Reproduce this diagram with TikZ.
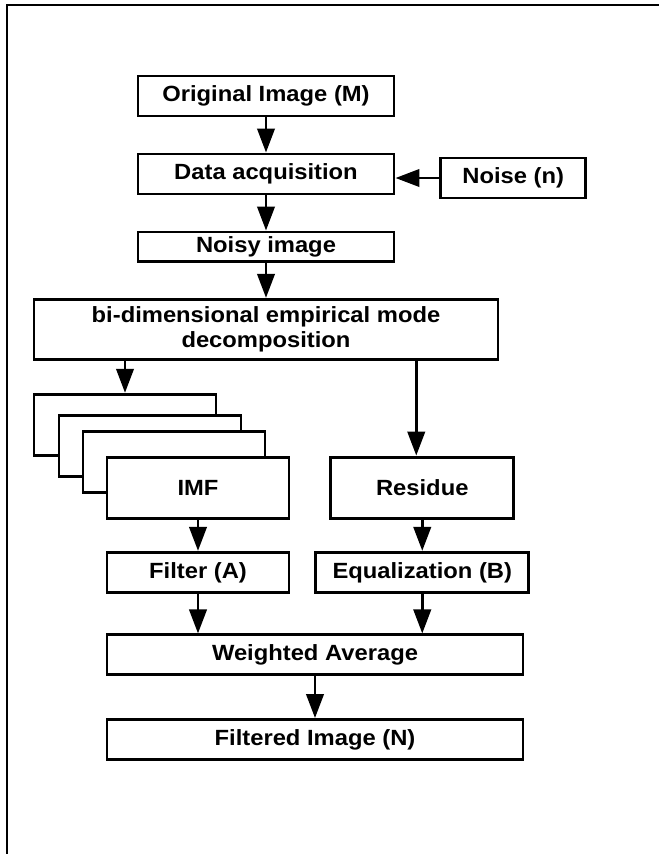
\documentclass[tikz,border=0pt]{standalone}
\usepackage{fontspec}
\setmainfont{Liberation Sans}[FakeStretch=1.08]
\usetikzlibrary{arrows.meta,positioning}

\begin{document}
\begin{tikzpicture}[
  x=0.75pt, y=-0.75pt,
  font=\fontsize{16.5}{19}\selectfont\bfseries,
  node distance=26.3pt and 29pt,
  box/.style={
    draw=black,
    line width=2.2pt,
    fill=white,
    align=center,
    inner sep=2pt,
    minimum height=30pt
  },
  colbox/.style={box, minimum width=192pt},
  modebox/.style={box, minimum width=136.5pt, minimum height=46pt},
  widebox/.style={box, minimum width=312pt},
  arrow/.style={-{Triangle[length=18pt,width=13pt]}, line width=2.2pt, draw=black}
]
\useasboundingbox (0,0) rectangle (658,854);

% frame
\draw[line width=1.5pt] (7,870) -- (7,5) -- (670,5);

\node[colbox] (orig) at (266,96) {Original Image (M)};
\node[colbox, below=of orig] (data) {Data acquisition};
\node[box, minimum width=108.5pt, right=33pt of data, yshift=-3pt] (noise) {Noise (n)};
\node[colbox, minimum height=22pt, below=of data] (noisy) {Noisy image};
\node[box, minimum width=348pt, minimum height=45pt, below=of noisy] (emd) {bi-dimensional empirical mode\\decomposition};

% stacked modes
\node[modebox, below=24pt of emd.south west, anchor=north west] (mode1) {};
\node[modebox] (mode2) at ([shift={(18.75pt,-16pt)}]mode1.center) {};
\node[modebox] (mode3) at ([shift={(18pt,-11.6pt)}]mode2.center) {};
\node[modebox] (imf) at ([shift={(18pt,-19.5pt)}]mode3.center) {IMF};
\node[modebox, minimum width=137.5pt, right=of imf] (residue) {Residue};

\node[box, minimum width=136.5pt, below=23.25pt of imf] (filter) {Filter (A)};
\node[box, minimum width=159.5pt, below=23.25pt of residue] (equal) {Equalization (B)};
\node[widebox, below=29.75pt of filter.south west, anchor=north west] (wavg) {Weighted Average};
\node[widebox, below=31.25pt of wavg] (filtered) {Filtered Image (N)};

\draw[arrow] (orig) -- (data);
\draw[arrow] (noise.west) -- (noise.west -| data.east);
\draw[arrow] (data) -- (noisy);
\draw[arrow] (noisy) -- (emd);
\draw[arrow] (emd.south -| mode1) -- (mode1);
\draw[arrow] ([xshift=-4.5pt]emd.south -| residue) -- ([xshift=-4.5pt]residue.north);
\draw[arrow] (imf) -- (filter);
\draw[arrow] (residue) -- (equal);
\draw[arrow] (filter) -- (filter |- wavg.north);
\draw[arrow] (equal) -- (equal |- wavg.north);
\draw[arrow] (wavg) -- (filtered);

\end{tikzpicture}
\end{document}
